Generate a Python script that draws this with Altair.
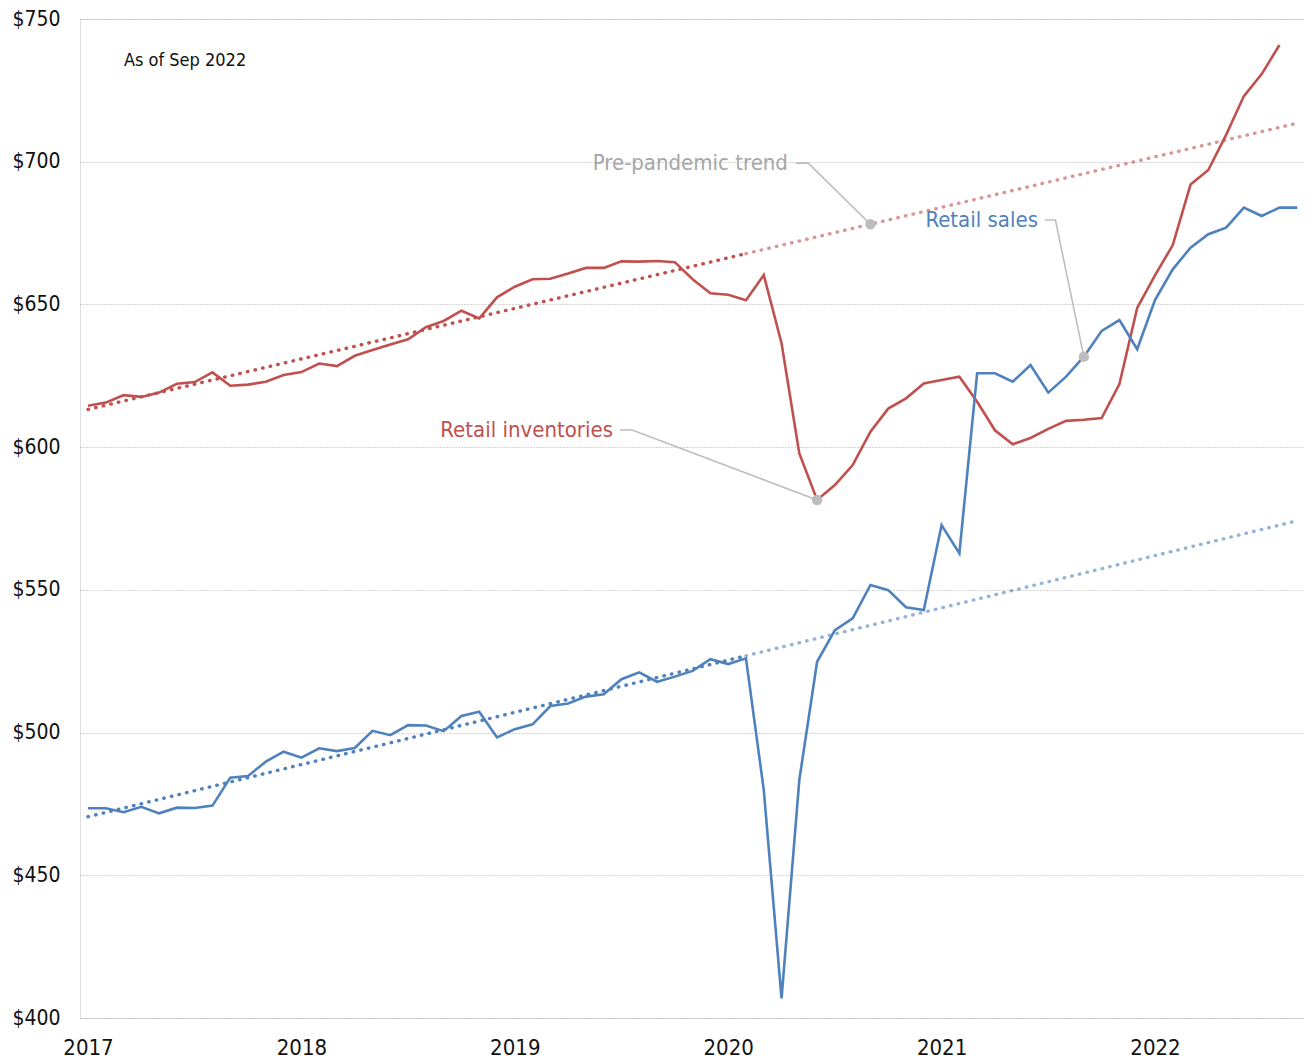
import altair as alt
import pandas as pd

# ---- data (monthly, month index 0 = Jan 2017) ----
inventories = [614.5, 615.6, 618.2, 617.6, 619.1, 622.2, 622.8, 626.2, 621.5, 621.9,
               622.9, 625.3, 626.3, 629.3, 628.4, 632.0, 634.0, 636.0, 637.8, 642.0,
               644.2, 647.8, 645.1, 652.5, 656.2, 658.8, 659.0, 660.8, 662.8, 662.8,
               665.1, 665.0, 665.2, 664.8, 658.8, 653.9, 653.4, 651.5, 660.3, 636.4,
               597.8, 581.5, 586.7, 593.7, 605.4, 613.5, 617.1, 622.3, 623.5, 624.7,
               615.9, 605.9, 601.0, 603.2, 606.4, 609.2, 609.6, 610.2, 622.1, 648.8,
               660.2, 670.8, 692.0, 697.1, 709.4, 723.0, 730.7, 740.9]
sales = [473.5, 473.5, 472.1, 474.0, 471.7, 473.7, 473.6, 474.4, 484.2, 484.8,
         489.8, 493.3, 491.2, 494.5, 493.5, 494.6, 500.6, 499.1, 502.6, 502.5,
         500.5, 505.8, 507.3, 498.3, 501.2, 502.9, 509.3, 510.2, 512.6, 513.4,
         518.7, 521.1, 517.8, 519.6, 521.6, 525.7, 524.0, 526.0, 479.9, 406.9,
         483.4, 524.8, 535.9, 540.0, 551.7, 549.9, 543.9, 542.9, 572.7, 562.8,
         625.9, 625.9, 622.9, 628.8, 619.1, 624.7, 631.7, 640.7, 644.5, 634.3,
         651.5, 662.3, 669.9, 674.6, 676.9, 683.9, 681.0, 683.9, 683.9]

# pre-pandemic trend lines: points at Jan 2017, Feb 2020, Sep 2022
trend_months = [0, 37, 68]
inv_trend = [613.2, 667.8, 713.5]
sales_trend = [470.5, 526.9, 574.2]

year_ticks = [0, 12, 24, 36, 48, 60]
y_ticks = [400, 450, 500, 550, 600, 650, 700, 750]

RED = "#c0504d"
BLUE = "#4f81bd"
GRAY = "#bdbdbd"
FONT = "'DejaVu Sans Condensed', 'Liberation Sans Narrow', 'Arial Narrow', Roboto, sans-serif"

lines_df = pd.DataFrame(
    [{"m": i, "v": v, "s": "inv"} for i, v in enumerate(inventories)]
    + [{"m": i, "v": v, "s": "sales"} for i, v in enumerate(sales)]
)

def seg(vals, a, b, name):
    return [{"m": trend_months[a], "v": vals[a], "s": name},
            {"m": trend_months[b], "v": vals[b], "s": name}]

pre_df = pd.DataFrame(seg(inv_trend, 0, 1, "inv") + seg(sales_trend, 0, 1, "sales"))
post_df = pd.DataFrame(seg(inv_trend, 1, 2, "inv") + seg(sales_trend, 1, 2, "sales"))

# annotations: label anchor (right end), elbow, target point
ann = [
    {"id": "trend", "text": "Pre-pandemic trend", "color": "#a6a6a6",
     "tm": 39.36, "tv": 699.5, "e1m": 39.8, "e2m": 40.5, "pm": 44, "pv": 678.1},
    {"id": "sales", "text": "Retail sales", "color": BLUE,
     "tm": 53.42, "tv": 679.6, "e1m": 53.8, "e2m": 54.4, "pm": 56, "pv": 631.7},
    {"id": "inv", "text": "Retail inventories", "color": RED,
     "tm": 29.52, "tv": 606.0, "e1m": 29.9, "e2m": 30.6, "pm": 41, "pv": 581.5},
]
ann_df = pd.DataFrame(ann)
leader_rows = []
for a in ann:
    leader_rows += [{"id": a["id"], "o": 0, "m": a["e1m"], "v": a["tv"]},
                    {"id": a["id"], "o": 1, "m": a["e2m"], "v": a["tv"]},
                    {"id": a["id"], "o": 2, "m": a["pm"], "v": a["pv"]}]
leader_df = pd.DataFrame(leader_rows)
note_df = pd.DataFrame([{"m": 2.02, "v": 735.3, "text": "As of Sep 2022"}])

xs = alt.Scale(domain=[-0.45, 68.38], nice=False, zero=False)
ys = alt.Scale(domain=[400, 750], nice=False, zero=False)
color_scale = alt.Scale(domain=["inv", "sales"], range=[RED, BLUE])

X = alt.X("m:Q", scale=xs, title=None,
          axis=alt.Axis(values=year_ticks, labelExpr="'' + (2017 + datum.value / 12)",
                        grid=False, domain=False, ticks=False, tickSize=0,
                        labelFont=FONT, labelFontSize=22, labelColor="#111",
                        labelPadding=19))
Y = alt.Y("v:Q", scale=ys, title=None,
          axis=alt.Axis(values=y_ticks, labelExpr="'$' + datum.value",
                        grid=True, gridColor="#a8a8a8", gridDash=[1, 2], gridWidth=1,
                        domain=False, ticks=False, tickSize=0,
                        labelFont=FONT, labelFontSize=21, labelColor="#111",
                        labelAlign="left", labelPadding=68, labelBaseline="middle"))

pre = alt.Chart(pre_df).mark_line(strokeDash=[0.5, 7.3], strokeCap="round", strokeWidth=3.4).encode(
    x=X, y=Y, color=alt.Color("s:N", scale=color_scale, legend=None), detail="s:N")
post = alt.Chart(post_df).mark_line(strokeDash=[0.5, 7.3], strokeCap="round", strokeWidth=3.4,
                                    opacity=0.6).encode(
    x="m:Q", y="v:Q", color=alt.Color("s:N", scale=color_scale, legend=None), detail="s:N")
main = alt.Chart(lines_df).mark_line(strokeWidth=2.6, strokeJoin="miter").encode(
    x="m:Q", y="v:Q", color=alt.Color("s:N", scale=color_scale, legend=None), detail="s:N")
leaders = alt.Chart(leader_df).mark_line(color=GRAY, strokeWidth=1.6).encode(
    x="m:Q", y="v:Q", detail="id:N", order="o:Q")
dots = alt.Chart(ann_df).mark_circle(color=GRAY, size=110, opacity=1).encode(
    x=alt.X("pm:Q"), y=alt.Y("pv:Q"))
labels = alt.Chart(ann_df).mark_text(align="right", baseline="middle", font=FONT,
                                     fontSize=22).encode(
    x="tm:Q", y="tv:Q", text="text:N", color=alt.Color("color:N", scale=None))
note = alt.Chart(note_df).mark_text(align="left", baseline="middle", font=FONT,
                                    fontSize=18, color="#111").encode(
    x="m:Q", y="v:Q", text="text:N")

chart = alt.layer(pre, post, main, leaders, dots, labels, note).properties(
    width=1224, height=999,
    autosize=alt.AutoSizeParams(type="none"),
    padding={"left": 72, "top": 11, "right": 0, "bottom": 40},
).configure_view(stroke=None).configure(background="white")

chart.save("out.html", embed_options={"renderer": "svg", "actions": False})
